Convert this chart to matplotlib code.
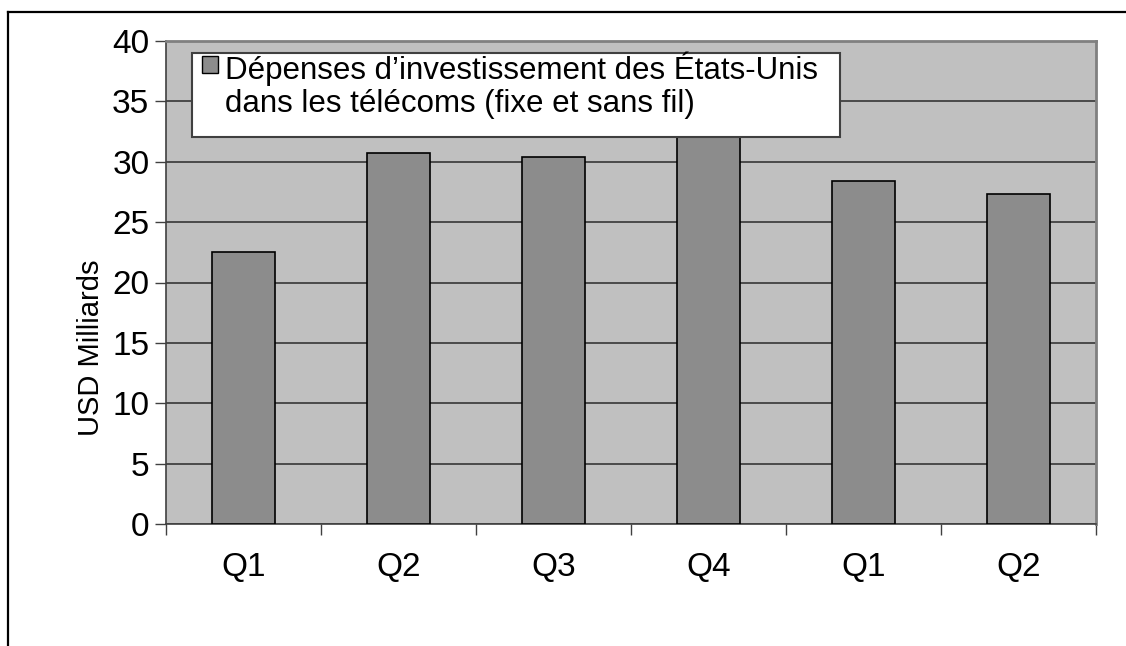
import matplotlib
matplotlib.use('Agg')
import matplotlib.pyplot as plt
from matplotlib.patches import Rectangle
from matplotlib.lines import Line2D
import numpy as np

plt.rcParams['font.family'] = ['Liberation Sans', 'DejaVu Sans']

# data
quarters = ['Q1', 'Q2', 'Q3', 'Q4', 'Q1', 'Q2']
capex = [22.5, 30.7, 30.4, 33.0, 28.4, 27.3]
legend_label = 'Dépenses d\u2019investissement des États-Unis\ndans les télécoms (fixe et sans fil)'
y_label = 'USD Milliards'

bar_color = '#8c8c8c'
bg_color = '#c0c0c0'

fig = plt.figure(figsize=(11.26, 6.46), dpi=100)
ax = fig.add_axes([166/1126, 1 - 524/646, 930/1126, 483/646])
ax.set_facecolor(bg_color)

x = np.arange(len(quarters))
ax.bar(x, capex, width=0.406, color=bar_color, edgecolor='black', linewidth=1.2, zorder=3)

ax.set_ylim(0, 40)
ax.set_xlim(-0.5, len(quarters) - 0.5)
ax.set_yticks(np.arange(0, 41, 5))
ax.grid(axis='y', color='#2a2a2a', linewidth=1.1, zorder=1)

# category boundaries as major ticks, labels on minor ticks
ax.set_xticks(np.arange(-0.5, len(quarters), 1.0))
ax.set_xticklabels([])
ax.set_xticks(x, minor=True)
ax.set_xticklabels(quarters, minor=True)
ax.tick_params(axis='x', which='major', direction='out', length=8, width=1, color='#404040')
ax.tick_params(axis='x', which='minor', length=0, pad=20, labelsize=24)
ax.tick_params(axis='y', direction='out', length=8, width=1, color='#404040', pad=4, labelsize=24)

for side in ['left', 'bottom']:
    ax.spines[side].set_color('#404040')
    ax.spines[side].set_linewidth(1.2)
for side in ['top', 'right']:
    ax.spines[side].set_color('#808080')
    ax.spines[side].set_linewidth(2)

# label sits below the middle of the axis in the reference
ax.set_ylabel(y_label, fontsize=21)
ax.yaxis.set_label_coords(-0.066, 0.364)

# legend box drawn by hand so the swatch sits by the first line
ax.add_patch(Rectangle((0.028, 0.801), 0.697, 0.174, transform=ax.transAxes,
                       facecolor='white', edgecolor='#404040', linewidth=1.5, zorder=5))
ax.add_patch(Rectangle((36/930, 1 - 32/483), 16/930, 17/483, transform=ax.transAxes,
                       facecolor=bar_color, edgecolor='black', linewidth=1, zorder=6))
ax.text(59/930, 1 - 11/483, legend_label, transform=ax.transAxes, fontsize=22.5,
        va='top', ha='left', linespacing=1.1, zorder=6)

# outer frame (top and left only)
fig.add_artist(Line2D([8/1126, 1], [1 - 12/646, 1 - 12/646], color='black', linewidth=1.6))
fig.add_artist(Line2D([8/1126, 8/1126], [0, 1 - 12/646], color='black', linewidth=1.6))

fig.savefig('out.png', dpi=100)
